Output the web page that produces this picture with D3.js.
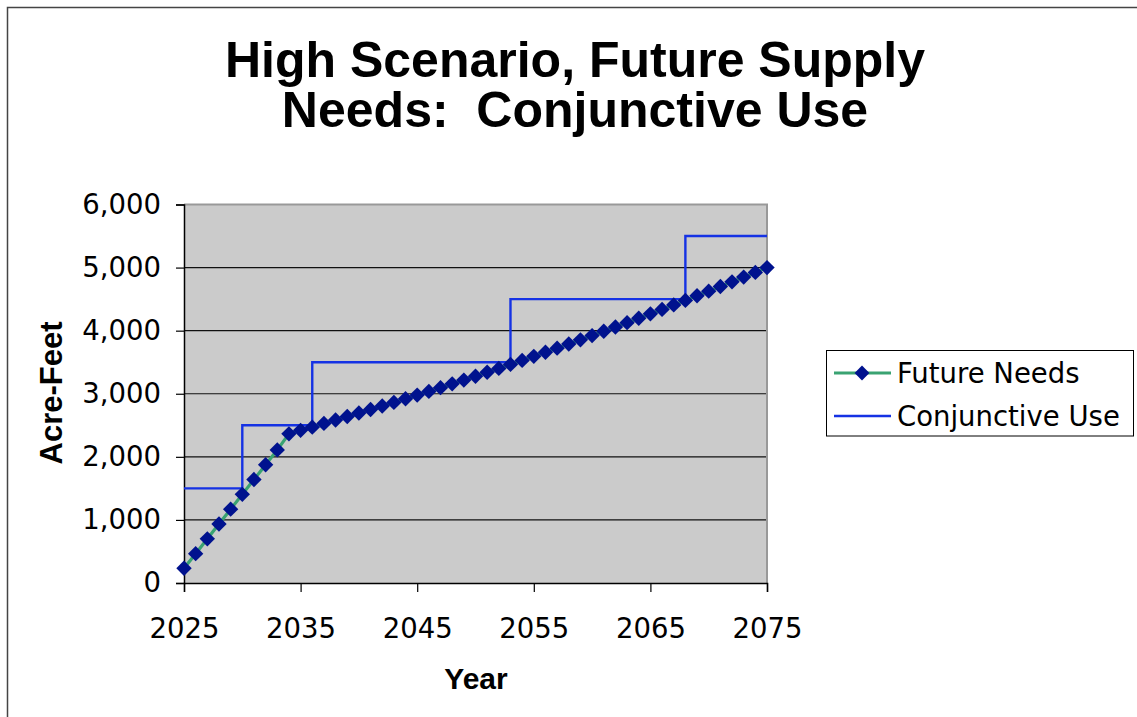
<!DOCTYPE html>
<html>
<head>
<meta charset="utf-8">
<script src="https://cdn.jsdelivr.net/npm/d3@7/dist/d3.min.js"></script>
<style>
  html, body { margin: 0; padding: 0; background: #fff; }
  svg { display: block; }
  .pre { white-space: pre; }
</style>
</head>
<body>
<svg id="chart" width="1137" height="717"></svg>
<script>
// Annual demand projection (acre-feet), one value per year 2025-2075
const needYears = d3.range(2025, 2076);
const needValues = [
  233, 465, 700, 935, 1170, 1405, 1640, 1875, 2110, 2365,
  2420, 2470, 2530, 2584, 2639, 2694, 2750, 2806, 2863, 2921,
  2979, 3037, 3097, 3157, 3217, 3278, 3340, 3402, 3465, 3529,
  3593, 3658, 3723, 3789, 3855, 3922, 3990, 4058, 4127, 4197,
  4267, 4337, 4408, 4480, 4553, 4626, 4700, 4774, 4849, 4924,
  5000
];

// Conjunctive-use supply steps
const supplyYears  = [2025, 2030, 2030, 2036, 2036, 2053, 2053, 2068, 2068, 2075];
const supplyValues = [1500, 1500, 2500, 2500, 3500, 3500, 4500, 4500, 5500, 5500];

const xTicks = [2025, 2035, 2045, 2055, 2065, 2075];
const yTicks = [0, 1000, 2000, 3000, 4000, 5000, 6000];

const titleLines = ["High Scenario, Future Supply", "Needs:  Conjunctive Use"];
const seriesNames = ["Future Needs", "Conjunctive Use"];

const needColor = "#3aa372";
const markerColor = "#00128e";
const supplyColor = "#1532e4";

const svg = d3.select("#chart");

// chart-area frame
svg.append("path")
  .attr("d", "M7.5,717 V7.5 H1137")
  .attr("fill", "none")
  .attr("stroke", "#444")
  .attr("stroke-width", 1.5);

const plot = { left: 184, right: 767, top: 204.5, bottom: 583 };

const x = d3.scaleLinear().domain([2025, 2075]).range([plot.left, plot.right]);
const y = d3.scaleLinear().domain([0, 6000]).range([plot.bottom, plot.top]);

// plot background
svg.append("rect")
  .attr("x", plot.left).attr("y", plot.top)
  .attr("width", plot.right - plot.left)
  .attr("height", plot.bottom - plot.top)
  .attr("fill", "#cbcbcb");

// horizontal gridlines
svg.append("g")
  .selectAll("line")
  .data(yTicks.filter(d => d > 0 && d < 6000))
  .join("line")
  .attr("x1", plot.left).attr("x2", plot.right)
  .attr("y1", d => y(d)).attr("y2", d => y(d))
  .attr("stroke", "#111")
  .attr("stroke-width", 1.2);

// top and right edges of the plot area
svg.append("path")
  .attr("d", `M${plot.left},${plot.top} H${plot.right} V${plot.bottom}`)
  .attr("fill", "none")
  .attr("stroke", "#999")
  .attr("stroke-width", 2);

// y axis
const yAxis = svg.append("g")
  .attr("transform", `translate(${plot.left},0)`)
  .call(d3.axisLeft(y).tickValues(yTicks).tickSize(8).tickPadding(15)
    .tickFormat(d3.format(",")));
yAxis.select(".domain").attr("stroke", "#000").attr("stroke-width", 1.5);
yAxis.selectAll(".tick line").attr("stroke", "#000").attr("stroke-width", 1.2);
yAxis.selectAll(".tick text")
  .attr("font-family", "'DejaVu Sans', Verdana, sans-serif")
  .attr("font-size", 27.5)
  .attr("fill", "#000");

// x axis
const xAxis = svg.append("g")
  .attr("transform", `translate(0,${plot.bottom})`)
  .call(d3.axisBottom(x).tickValues(xTicks).tickSize(9).tickPadding(26)
    .tickFormat(d3.format("d")));
xAxis.select(".domain").attr("stroke", "#000").attr("stroke-width", 1.5);
xAxis.selectAll(".tick line").attr("stroke", "#000").attr("stroke-width", 1.2);
xAxis.selectAll(".tick text")
  .attr("font-family", "'DejaVu Sans', Verdana, sans-serif")
  .attr("font-size", 27.5)
  .attr("fill", "#000");

// supply step line
const supplyPts = supplyYears.map((yr, i) => [yr, supplyValues[i]]);
svg.append("path")
  .datum(supplyPts)
  .attr("fill", "none")
  .attr("stroke", supplyColor)
  .attr("stroke-width", 2.4)
  .attr("d", d3.line().x(d => x(d[0])).y(d => y(d[1])));

// needs line with diamond markers
const needPts = needYears.map((yr, i) => [yr, needValues[i]]);
svg.append("path")
  .datum(needPts)
  .attr("fill", "none")
  .attr("stroke", needColor)
  .attr("stroke-width", 3.2)
  .attr("d", d3.line().x(d => x(d[0])).y(d => y(d[1])));

const diamondShape = d3.symbol().type(d3.symbolSquare).size(118);
svg.append("g")
  .selectAll("path")
  .data(needPts)
  .join("path")
  .attr("transform", d => `translate(${x(d[0])},${y(d[1])}) rotate(45)`)
  .attr("d", diamondShape)
  .attr("fill", markerColor);

// title
svg.append("g")
  .selectAll("text")
  .data(titleLines)
  .join("text")
  .attr("class", "pre")
  .attr("x", 575)
  .attr("y", (d, i) => 77 + i * 50)
  .attr("text-anchor", "middle")
  .attr("font-family", "'Liberation Sans', Arial, sans-serif")
  .attr("font-weight", "bold")
  .attr("font-size", 50)
  .text(d => d);

// axis titles
svg.append("text")
  .attr("x", 476).attr("y", 689)
  .attr("text-anchor", "middle")
  .attr("font-family", "'Liberation Sans', Arial, sans-serif")
  .attr("font-weight", "bold")
  .attr("font-size", 30)
  .text("Year");

svg.append("text")
  .attr("transform", "translate(62,393) rotate(-90)")
  .attr("text-anchor", "middle")
  .attr("font-family", "'Liberation Sans', Arial, sans-serif")
  .attr("font-weight", "bold")
  .attr("font-size", 31)
  .text("Acre-Feet");

// legend
const legend = svg.append("g");
legend.append("rect")
  .attr("x", 826.5).attr("y", 350.5)
  .attr("width", 307).attr("height", 85.5)
  .attr("fill", "#fff")
  .attr("stroke", "#000")
  .attr("stroke-width", 1);

const rows = [373, 416];
legend.append("line")
  .attr("x1", 834).attr("x2", 891).attr("y1", rows[0]).attr("y2", rows[0])
  .attr("stroke", needColor).attr("stroke-width", 3);
legend.append("path")
  .attr("transform", `translate(862,${rows[0]}) rotate(45)`)
  .attr("d", d3.symbol().type(d3.symbolSquare).size(110))
  .attr("fill", markerColor);
legend.append("line")
  .attr("x1", 834).attr("x2", 891).attr("y1", rows[1]).attr("y2", rows[1])
  .attr("stroke", supplyColor).attr("stroke-width", 2.4);

legend.selectAll("text")
  .data(seriesNames)
  .join("text")
  .attr("x", 897)
  .attr("y", (d, i) => rows[i] + 10)
  .attr("font-family", "'DejaVu Sans', Verdana, sans-serif")
  .attr("font-size", 27.5)
  .text(d => d);
</script>
</body>
</html>
